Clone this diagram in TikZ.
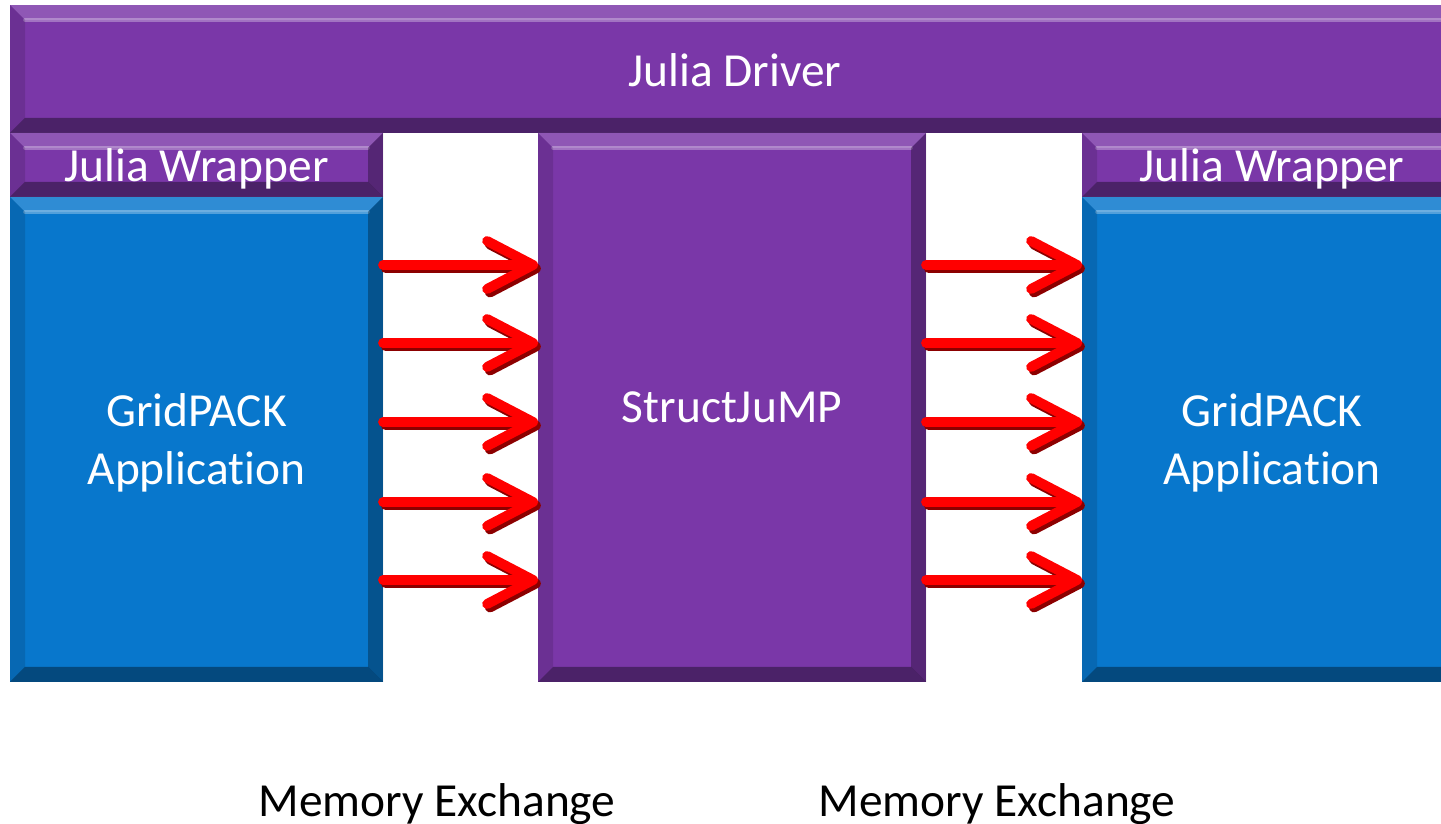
\documentclass[tikz,border=0pt]{standalone}
\usepackage{fontspec}
\setmainfont[Ligatures=NoCommon]{Carlito}
\usetikzlibrary{arrows.meta}
\definecolor{jlpurple}{HTML}{7A37A8}
\definecolor{gpblue}{HTML}{0877CC}
\definecolor{mexred}{HTML}{FF0000}
\definecolor{mexshadow}{HTML}{8C0000}
\def\bv{0.15}
\tikzset{
  every picture/.style={line join=round, line cap=round, >=Stealth},
  bevel/.style={path picture={
    \fill[white,opacity=0.16](path picture bounding box.north west)--(path picture bounding box.north east)
      --([shift={(-\bv,-\bv)}]path picture bounding box.north east)--([shift={(\bv,-\bv)}]path picture bounding box.north west)--cycle;
    \draw[white,opacity=0.3,line width=1pt]([shift={(\bv,-\bv)}]path picture bounding box.north west)--([shift={(-\bv,-\bv)}]path picture bounding box.north east);
    \fill[black,opacity=0.38](path picture bounding box.south west)--(path picture bounding box.south east)
      --([shift={(-\bv,\bv)}]path picture bounding box.south east)--([shift={(\bv,\bv)}]path picture bounding box.south west)--cycle;
    \fill[black,opacity=0.12](path picture bounding box.north west)--(path picture bounding box.south west)
      --([shift={(\bv,\bv)}]path picture bounding box.south west)--([shift={(\bv,-\bv)}]path picture bounding box.north west)--cycle;
    \fill[black,opacity=0.3](path picture bounding box.north east)--(path picture bounding box.south east)
      --([shift={(-\bv,\bv)}]path picture bounding box.south east)--([shift={(-\bv,-\bv)}]path picture bounding box.north east)--cycle;
  }},
  blk/.style={rectangle, inner sep=0pt, outer sep=0pt, anchor=north west, text=white, align=center,
    text depth=0pt, font=\fontsize{13.5}{16.5}\selectfont, bevel},
  jlbox/.style={blk, fill=jlpurple},
  gpbox/.style={blk, fill=gpblue},
  mex/.style={line width=2.8pt, draw=mexred, -{Straight Barb[length=4.6mm,width=4.8mm,round]}},
  mexsh/.style={mex, draw=mexshadow, transform canvas={shift={(0.8pt,-1pt)}}},
  mexlabel/.style={anchor=base, font=\fontsize{13.5}{16.5}\selectfont},
}

\begin{document}
\begin{tikzpicture}
\useasboundingbox(0,0)rectangle(14.41,8.23);
% julia layer
\node[jlbox, minimum width=14.5cm, minimum height=1.28cm, text height=10pt](driver)at(0.10,8.18){Julia Driver};
\node[jlbox, minimum width=3.73cm, minimum height=0.64cm](wrapL)at(0.10,6.90){Julia Wrapper};
\node[jlbox, minimum width=3.88cm, minimum height=5.49cm](sj)at(5.38,6.90){StructJuMP};
\node[jlbox, minimum width=3.8cm, minimum height=0.64cm](wrapR)at(10.82,6.90){Julia Wrapper};
% gridpack apps
\node[gpbox, minimum width=3.73cm, minimum height=4.85cm](appL)at(0.10,6.26){GridPACK\\Application};
\node[gpbox, minimum width=3.8cm, minimum height=4.85cm](appR)at(10.82,6.26){GridPACK\\Application};
% memory exchange
\foreach \y in {5.58,4.80,4.01,3.21,2.43}{
\draw[mexsh](appL.east |- 0,\y)--(sj.west |- 0,\y);
\draw[mex](appL.east |- 0,\y)--(sj.west |- 0,\y);
\draw[mexsh](sj.east |- 0,\y)--(appR.west |- 0,\y);
\draw[mex](sj.east |- 0,\y)--(appR.west |- 0,\y);
}
\node[mexlabel](mexL)at(4.37,0.07){Memory Exchange};
\node[mexlabel](mexR)at(9.97,0.07){Memory Exchange};
\end{tikzpicture}
\end{document}
